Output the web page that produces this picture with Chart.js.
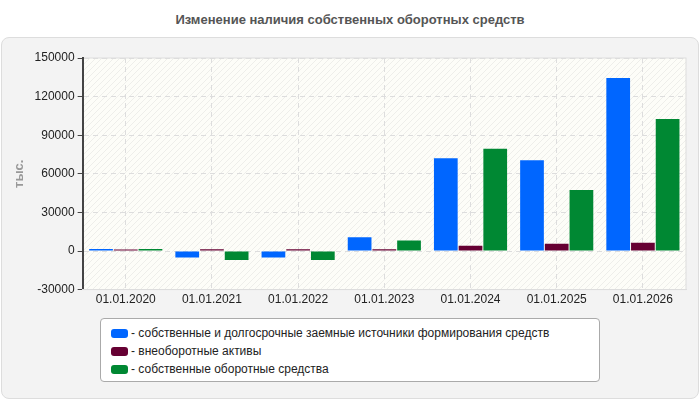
<!DOCTYPE html>
<html>
<head>
<meta charset="utf-8">
<script src="https://cdn.jsdelivr.net/npm/chart.js@4"></script>
<style>
    body { margin: 0; width: 700px; height: 400px; background: #fff; font-family: Arial, "Liberation Sans", sans-serif; position: relative; overflow: hidden; }
    #title { position: absolute; top: 12px; left: 0; width: 700px; text-align: center; font-size: 13px; font-weight: bold; color: #555; }
    #panel { position: absolute; left: 1px; top: 37px; width: 696px; height: 360px; background: #f3f3f3; border: 1px solid #ddd; border-radius: 8px; }
    #wrap { position: absolute; left: 0; top: 0; width: 696px; height: 272px; }
    #legend { position: absolute; left: 98px; top: 280px; width: 500px; height: 64px; background: #fff; border: 1px solid #aaa; border-radius: 4px; font-size: 12px; color: #222; padding-top: 5px; box-sizing: border-box; }
    .item { height: 18px; line-height: 18px; padding-left: 10px; }
    .sw { display: inline-block; width: 17px; height: 9px; border-radius: 3px; margin-right: 3px; vertical-align: -1px; }
</style>
</head>
<body>
<div id="title">Изменение наличия собственных оборотных средств</div>
<div id="panel">
    <div id="wrap"><canvas id="chart"></canvas></div>
    <div id="legend"></div>
</div>
<script>
const labels = ['01.01.2020', '01.01.2021', '01.01.2022', '01.01.2023', '01.01.2024', '01.01.2025', '01.01.2026'];
const seriesNames = [
    'собственные и долгосрочные заемные источники формирования средств',
    'внеоборотные активы',
    'собственные оборотные средства'
];
const ownAndLongTerm = [1500, -5000, -5000, 10700, 72000, 70500, 134500];
const nonCurrent = [1200, 1300, 1300, 1300, 4000, 5700, 6500];
const workingCapital = [1500, -7000, -7000, 8200, 79500, 47500, 102500];
const colors = ['#0066ff', '#660033', '#008833'];

// hatched plot background
function makePattern() {
    const c = document.createElement('canvas');
    c.width = 6; c.height = 6;
    const g = c.getContext('2d');
    g.fillStyle = '#fdfdf8';
    g.fillRect(0, 0, 6, 6);
    g.strokeStyle = '#eeeeea';
    g.lineWidth = 1;
    g.beginPath();
    g.moveTo(0, 6); g.lineTo(6, 0);
    g.moveTo(-1, 1); g.lineTo(1, -1);
    g.moveTo(5, 7); g.lineTo(7, 5);
    g.stroke();
    return g.createPattern(c, 'repeat');
}

const plotBg = {
    id: 'plotBg',
    beforeDraw(chart) {
        const { ctx, chartArea: a } = chart;
        ctx.save();
        ctx.fillStyle = makePattern();
        ctx.fillRect(a.left, a.top, a.right - a.left, a.bottom - a.top);
        ctx.strokeStyle = '#ddd';
        ctx.strokeRect(a.left, a.top, a.right - a.left, a.bottom - a.top);
        ctx.restore();
    }
};

const data = [ownAndLongTerm, nonCurrent, workingCapital];

new Chart(document.getElementById('chart'), {
    type: 'bar',
    data: {
        labels: labels,
        datasets: data.map((d, i) => ({
            label: seriesNames[i],
            data: d,
            backgroundColor: colors[i],
            barPercentage: 0.96,
            categoryPercentage: 0.86
        }))
    },
    options: {
        responsive: true,
        maintainAspectRatio: false,
        animation: false,
        layout: { padding: { top: 20, right: 12, left: 6 } },
        plugins: { legend: { display: false }, tooltip: { enabled: false } },
        scales: {
            y: {
                min: -30000, max: 150000,
                ticks: { stepSize: 30000, color: '#222', font: { size: 12 }, callback: v => String(v) },
                grid: { color: '#ddd', drawTicks: true, tickLength: 5, tickColor: '#444' },
                border: { dash: [5, 4], color: '#444', width: 2 },
                title: { display: true, text: 'тыс.', color: '#999', font: { size: 13, weight: 'bold' } }
            },
            x: {
                ticks: { color: '#222', font: { size: 12 } },
                grid: { color: '#ddd', offset: false, drawTicks: false },
                border: { dash: [5, 4], color: '#ddd' }
            }
        }
    },
    plugins: [plotBg]
});

document.getElementById('legend').innerHTML = seriesNames.map((n, i) =>
    `<div class="item"><span class="sw" style="background:${colors[i]}"></span>- ${n}</div>`).join('');
</script>
</body>
</html>
